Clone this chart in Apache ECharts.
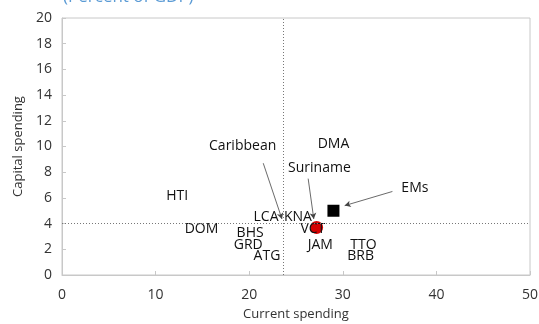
<!DOCTYPE html>
<html><head><meta charset="utf-8">
<script src="https://cdn.jsdelivr.net/npm/echarts@6/dist/echarts.min.js"></script>
<style>html,body{margin:0;padding:0;background:#fff}#c{width:539px;height:324px}</style>
</head><body><div id="c"></div>
<script>
// Country labels (current spending, capital spending)
const countries = ['HTI','DMA','DOM','BHS','GRD','ATG','LCA','KNA','VCT','JAM','TTO','BRB'];
const currentSpending = [12.3, 29.0, 14.9, 20.1, 19.9, 21.9, 21.8, 25.2, 26.8, 27.6, 32.2, 31.9];
const capitalSpending = [6.15, 10.2, 3.6, 3.3, 2.3, 1.5, 4.5, 4.5, 3.6, 2.3, 2.3, 1.5];
// Highlighted points
const suriname = [27.2, 3.7];
const emerging = [29.0, 5.0];
const caribbeanAvg = [23.6, 4.0];
// Annotations: label, label position, arrow start, arrow end
const annLabels = ['Caribbean', 'Suriname', 'EMs'];
const annLabelPos = [[19.3, 10.0], [27.5, 8.3], [37.7, 6.8]];
const annArrowFrom = [[21.5, 8.7], [26.3, 7.5], [35.3, 6.5]];
const annArrowTo = [[23.5, 4.36], [26.9, 4.36], [30.2, 5.4]];
const xTicks = {min: 0, max: 50, interval: 10};
const yTicks = {min: 0, max: 20, interval: 2};

const FONT = 'Open Sans';
const TXT = '#111';
const pointData = [
  {name: 'Suriname', value: suriname, symbol: 'circle', symbolSize: 13,
    itemStyle: {color: '#d40000', opacity: 1}, label: {show: false}},
  {name: 'EMs', value: emerging, symbol: 'rect', symbolSize: 12,
    itemStyle: {color: '#000', opacity: 1}, label: {show: false}}
].concat(countries.map((c, i) => ({name: c, value: [currentSpending[i], capitalSpending[i]], symbolSize: 0})))
 .concat(annLabels.map((t, i) => ({name: t, value: annLabelPos[i], symbolSize: 0})));

const chart = echarts.init(document.getElementById('c'));
chart.setOption({
  animation: false,
  textStyle: {fontFamily: FONT},
  title: {text: '(Percent of GDP)', left: 58, top: -16,
    textStyle: {color: '#5b9bd5', fontSize: 17, fontWeight: 'normal', fontFamily: FONT}},
  grid: {left: 62, right: 9, top: 18, bottom: 49, show: true, borderColor: '#c8c8c8', borderWidth: 1,
    containLabel: false, outerBoundsMode: 'none'},
  xAxis: {type: 'value', min: xTicks.min, max: xTicks.max, interval: xTicks.interval,
    name: 'Current spending', nameLocation: 'middle', nameGap: 33,
    nameTextStyle: {fontSize: 13, color: '#333', fontFamily: FONT},
    axisLine: {lineStyle: {color: '#c8c8c8'}},
    axisTick: {inside: true, length: 4, lineStyle: {color: '#c8c8c8'}},
    axisLabel: {fontSize: 14, color: '#333', margin: 13},
    splitLine: {show: false}},
  yAxis: {type: 'value', min: yTicks.min, max: yTicks.max, interval: yTicks.interval,
    name: 'Capital spending', nameLocation: 'middle', nameGap: 34,
    nameTextStyle: {fontSize: 13, color: '#333', fontFamily: FONT},
    axisLine: {show: true, lineStyle: {color: '#c8c8c8'}},
    axisTick: {show: true, inside: true, length: 4, lineStyle: {color: '#c8c8c8'}},
    axisLabel: {fontSize: 14, color: '#333', margin: 10},
    splitLine: {show: false}},
  series: [
    {type: 'scatter', data: pointData,
      itemStyle: {opacity: 1},
      label: {show: true, position: 'inside', formatter: p => p.name, color: TXT, fontSize: 14, fontFamily: FONT},
      markLine: {silent: true, symbol: ['none', 'none'], label: {show: false},
        lineStyle: {type: [1, 2], color: '#777', width: 1},
        data: [{xAxis: caribbeanAvg[0]}, {yAxis: caribbeanAvg[1]}]}
    },
    {type: 'scatter', data: [], 
      markLine: {silent: true, symbol: ['none', 'arrow'], symbolSize: [5, 6], label: {show: false},
        lineStyle: {type: 'solid', color: '#444', width: 0.8},
        data: annArrowFrom.map((f, i) => [{coord: f}, {coord: annArrowTo[i]}])}
    }
  ]
});
</script></body></html>
